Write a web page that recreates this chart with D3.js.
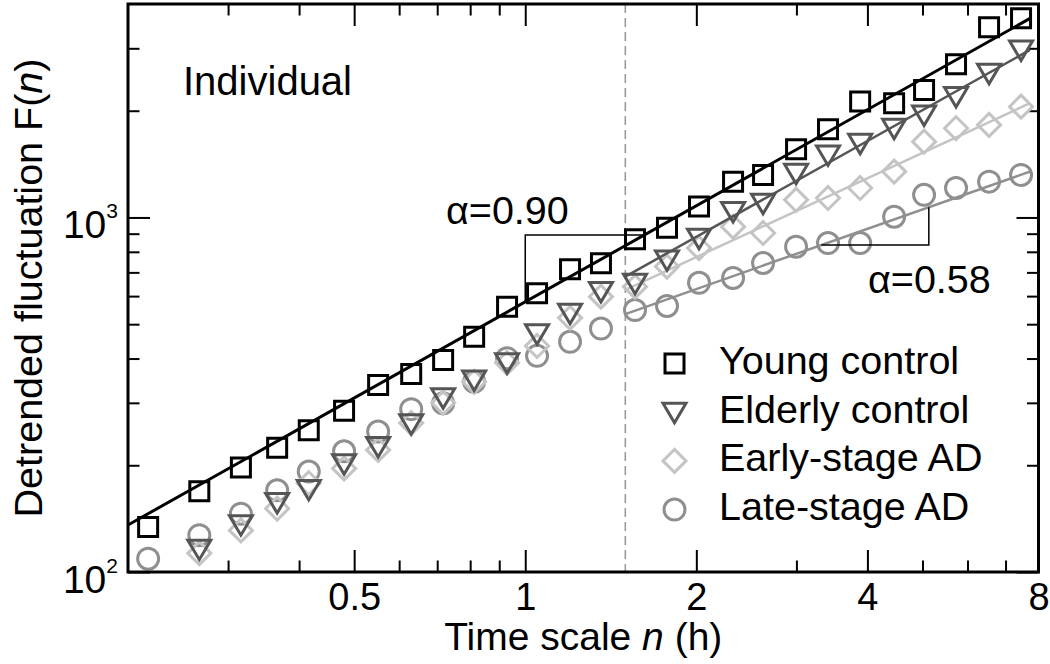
<!DOCTYPE html>
<html><head><meta charset="utf-8">
<script src="https://cdn.jsdelivr.net/npm/d3@7"></script>
<style>
body{margin:0;background:#fff}
svg{display:block}
text{font-family:"Liberation Sans",Arial,Helvetica,sans-serif;fill:#000}
</style>
</head><body>
<svg id="chart" width="1050" height="664"></svg>
<script>
// ---------------- data ----------------
const timeScaleHours = [0.217,0.267,0.316,0.366,0.416,0.48,0.551,0.63,0.717,0.813,0.929,1.049,1.199,1.359,1.56,1.776,2.022,2.321,2.621,2.996,3.41,3.884,4.457,5.032,5.728,6.548,7.454];
const youngControl   = [134,169,197,224,251,285,337,362,396,461,560,611,714,743,868,936,1073,1262,1318,1557,1774,2122,2100,2289,2705,3440,3647];
const elderlyControl = [null,116,136,157,171,202,226,262,310,348,389,470,537,618,652,759,874,1039,1097,1333,1501,1620,1785,1946,2192,2551,2968];
const earlyStageAD   = [null,113,131,151,178,196,221,263,300,344,389,434,521,598,638,727,820,942,904,1121,1135,1211,1347,1636,1785,1824,2054];
const lateStageAD    = [109,127,146,170,192,219,249,288,299,344,401,407,446,486,548,563,654,675,744,827,847,847,1005,1158,1211,1262,1318];
const seriesNames    = ["Young control","Elderly control","Early-stage AD","Late-stage AD"];
// fitted power-law lines: start/end time and value
const fitStartTime   = [0.2,1.5,1.5,1.5];
const fitEndTime     = [7.73,7.73,7.73,7.73];
const fitStartValue  = [135.7,681,625,534];
const fitEndValue    = [3644,2968,2100,1347];
const alphaLabels    = ["α=0.90","α=0.58"];
const crossoverTime  = 1.5;
const xTickLabels    = [0.5,1,2,4,8];
const xMinorTicks    = [0.3,0.4,0.6,0.7,0.8,0.9,3,5,6,7];
const yTickLabels    = [100,1000];
const yMinorTicks    = [200,300,400,500,600,700,800,900,2000,3000];

// ---------------- layout ----------------
const L = 128, R = 1038.5, T = 4, B = 572;
const svg = d3.select("#chart");
const x = d3.scaleLog().domain([0.2, 8]).range([L, R]);
const y = d3.scaleLog().domain([100, 4000]).range([B, T]);

const styles = [
  {color:"#000000", line:"#000000", lw:3,   shape:"square"},
  {color:"#555555", line:"#555555", lw:2.5, shape:"triangle"},
  {color:"#c4c4c4", line:"#c4c4c4", lw:2.5, shape:"diamond"},
  {color:"#8f8f8f", line:"#8f8f8f", lw:2.5, shape:"circle"}
];
const seriesData = [youngControl, elderlyControl, earlyStageAD, lateStageAD];

function shapePath(shape){
  switch(shape){
    case "square":   return "M-9.5,-9.5H9.5V9.5H-9.5Z";
    case "triangle": return "M-11.5,-9L11.5,-9L0,10.5Z";
    case "diamond":  return "M0,-11.5L11.5,0L0,11.5L-11.5,0Z";
  }
}
function drawMarker(g, shape, cx, cy, color){
  if(shape==="circle"){
    g.append("circle").attr("cx",cx).attr("cy",cy).attr("r",10.5)
      .attr("fill","none").attr("stroke",color).attr("stroke-width",3);
  } else {
    g.append("path").attr("d",shapePath(shape)).attr("transform",`translate(${cx},${cy})`)
      .attr("fill","none").attr("stroke",color).attr("stroke-width",3)
      .attr("stroke-linejoin","miter");
  }
}

// dashed crossover line
svg.append("line")
  .attr("x1",x(crossoverTime)).attr("x2",x(crossoverTime))
  .attr("y1",T).attr("y2",B)
  .attr("stroke","#9a9a9a").attr("stroke-width",1.6).attr("stroke-dasharray","9,5");

// axes (ticks inside)
function addAxis(axisFn, scale, values, size, transform, labels){
  const a = axisFn(scale).tickValues(values).tickSizeInner(-size).tickSizeOuter(0).tickPadding(11);
  a.tickFormat(labels ? (d => d3.format("")(d)) : () => "");
  const g = svg.append("g").attr("transform",transform).call(a);
  g.select(".domain").remove();
  g.selectAll(".tick line").attr("stroke","#000").attr("stroke-width",2);
  g.selectAll(".tick text").attr("font-size",38).attr("fill","#000")
    .attr("font-family",'"Liberation Sans",Arial,sans-serif');
  return g;
}
addAxis(d3.axisBottom, x, xTickLabels, 22, `translate(0,${B})`, true);
addAxis(d3.axisBottom, x, xMinorTicks, 11.5, `translate(0,${B})`, false);
addAxis(d3.axisTop, x, xTickLabels, 22, `translate(0,${T})`, false);
addAxis(d3.axisTop, x, xMinorTicks, 11.5, `translate(0,${T})`, false);
addAxis(d3.axisLeft, y, yTickLabels, 22, `translate(${L},0)`, false);
addAxis(d3.axisLeft, y, yMinorTicks, 11.5, `translate(${L},0)`, false);
addAxis(d3.axisRight, y, yTickLabels, 22, `translate(${R},0)`, false);
addAxis(d3.axisRight, y, yMinorTicks, 11.5, `translate(${R},0)`, false);

// y tick labels with superscripts
yTickLabels.forEach(v=>{
  const t = svg.append("text").attr("x",L-10).attr("y",y(v)+21)
    .attr("text-anchor","end").attr("font-size",39);
  t.append("tspan").text("10");
  t.append("tspan").attr("font-size",21).attr("dy",-20).text(String(Math.round(Math.log10(v))));
});

// markers (back to front: late, early, elderly, young)
const plotG = svg.append("g");
[3,2,1,0].forEach(si=>{
  const g = plotG.append("g");
  seriesData[si].forEach((v,i)=>{
    if(v==null) return;
    drawMarker(g, styles[si].shape, x(timeScaleHours[i]), y(v), styles[si].color);
  });
  g.append("line")
    .attr("x1",x(fitStartTime[si])).attr("y1",y(fitStartValue[si]))
    .attr("x2",x(fitEndTime[si])).attr("y2",y(fitEndValue[si]))
    .attr("stroke",styles[si].line).attr("stroke-width",styles[si].lw);
});

// slope helpers
function slopeOf(si){
  return Math.log(fitEndValue[si]/fitStartValue[si])/Math.log(fitEndTime[si]/fitStartTime[si]);
}
function fitAt(si, t){ return fitStartValue[si]*Math.pow(t/fitStartTime[si], slopeOf(si)); }
function fitTimeAt(si, v){ return fitStartTime[si]*Math.pow(v/fitStartValue[si], 1/slopeOf(si)); }

// bracket for young (alpha 0.90)
const b1t = 1, b1v = 893;
svg.append("path")
  .attr("d",`M${x(b1t)},${y(fitAt(0,b1t))}V${y(b1v)}H${x(fitTimeAt(0,b1v))}`)
  .attr("fill","none").attr("stroke","#000").attr("stroke-width",1.5);
// bracket for late stage (alpha 0.58)
const b2t = 5.13, b2v = 836;
svg.append("path")
  .attr("d",`M${x(fitTimeAt(3,b2v))},${y(b2v)}H${x(b2t)}V${y(fitAt(3,b2t))}`)
  .attr("fill","none").attr("stroke","#000").attr("stroke-width",1.5);

svg.append("text").attr("x",446).attr("y",224).attr("font-size",39.5).text(alphaLabels[0]);
svg.append("text").attr("x",868).attr("y",293).attr("font-size",39.5).text(alphaLabels[1]);
svg.append("text").attr("x",183).attr("y",95).attr("font-size",40).text("Individual");

// legend
const legG = svg.append("g");
seriesNames.forEach((name,i)=>{
  const by = 374 + i*48.7;
  drawMarker(legG, styles[i].shape, 674.5, by-10.5, styles[i].color);
  legG.append("text").attr("x",719).attr("y",by).attr("font-size",39.5).text(name);
});

// frame
svg.append("rect").attr("x",L).attr("y",T).attr("width",R-L).attr("height",B-T)
  .attr("fill","none").attr("stroke","#000").attr("stroke-width",3);

// axis titles
const xt = svg.append("text").attr("x",(L+R)/2).attr("y",650).attr("text-anchor","middle").attr("font-size",39);
xt.append("tspan").text("Time scale ");
xt.append("tspan").attr("font-style","italic").text("n");
xt.append("tspan").text(" (h)");
const yt = svg.append("text").attr("transform",`translate(42,${(T+B)/2}) rotate(-90)`)
  .attr("text-anchor","middle").attr("font-size",39.5);
yt.append("tspan").text("Detrended fluctuation F(");
yt.append("tspan").attr("font-style","italic").text("n");
yt.append("tspan").text(")");
</script>
</body></html>
